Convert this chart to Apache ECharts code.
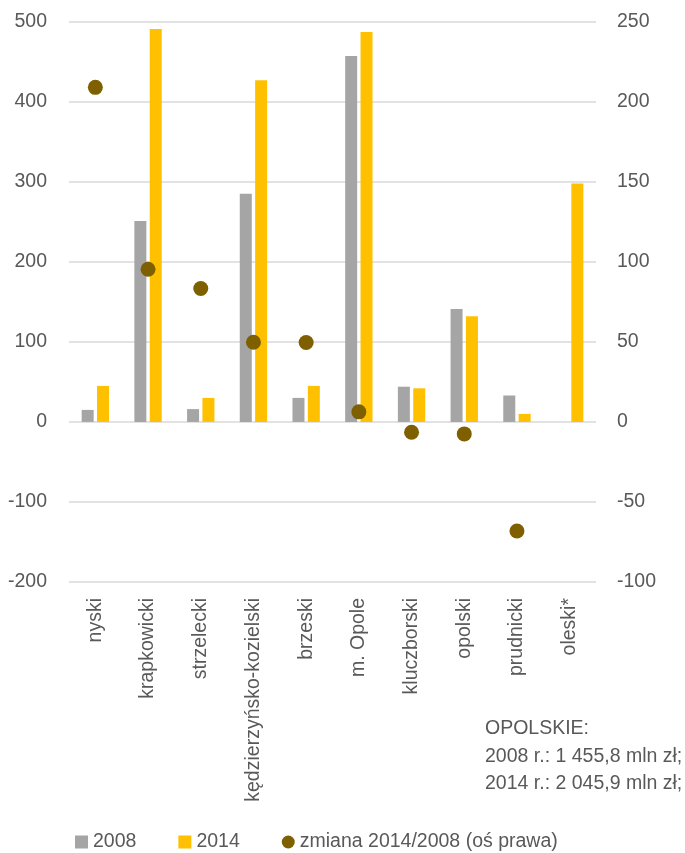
<!DOCTYPE html>
<html>
<head>
<meta charset="utf-8">
<script src="https://cdn.jsdelivr.net/npm/echarts@6/dist/echarts.min.js"></script>
<style>
html,body{margin:0;padding:0;background:#fff;}
#chart{width:685px;height:853px;}
</style>
</head>
<body>
<div id="chart"></div>
<script>
var categories = ['nyski','krapkowicki','strzelecki','kędzierzyńsko-kozielski','brzeski','m. Opole','kluczborski','opolski','prudnicki','oleski*'];
var values2008 = [15, 251, 16, 285, 30, 457, 44, 141, 33, null];
var values2014 = [45, 491, 30, 427, 45, 487, 42, 132, 10, 298];
var change = [209, 95.4, 83.3, 49.8, 49.6, 6.3, -6.5, -7.5, -68.1, null];
var noteLines = ['OPOLSKIE:', '2008 r.: 1 455,8 mln zł;', '2014 r.: 2 045,9 mln zł;'];

var FONT = "'Liberation Sans', Arial, sans-serif";
var FS = 19.5;
var TXT = '#595959';

var chart = echarts.init(document.getElementById('chart'), null, {renderer: 'canvas'});
chart.setOption({
  animation: false,
  backgroundColor: '#ffffff',
  textStyle: {fontFamily: FONT},
  grid: {left: 69, right: 89, top: 21.7, bottom: 271, containLabel: false},
  legend: {
    left: 70, top: 827,
    itemWidth: 13, itemHeight: 13, itemGap: 42,
    textStyle: {fontFamily: FONT, fontSize: FS, color: TXT},
    data: [
      {name: '2008', icon: 'rect'},
      {name: '2014', icon: 'rect'},
      {name: 'zmiana 2014/2008 (oś prawa)', icon: 'circle'}
    ]
  },
  xAxis: {
    type: 'category',
    data: categories,
    position: 'bottom',
    axisLine: {show: false, onZero: false},
    axisTick: {show: false},
    axisLabel: {rotate: 90, margin: 16, fontFamily: FONT, fontSize: FS, color: TXT, interval: 0}
  },
  yAxis: [
    {
      type: 'value', min: -200, max: 500, interval: 100,
      axisLine: {show: false}, axisTick: {show: false},
      axisLabel: {margin: 22, fontFamily: FONT, fontSize: FS, color: TXT},
      splitLine: {lineStyle: {color: '#d9d9d9', width: 1.5}}
    },
    {
      type: 'value', min: -100, max: 250, interval: 50,
      axisLine: {show: false}, axisTick: {show: false},
      axisLabel: {margin: 21, fontFamily: FONT, fontSize: FS, color: TXT},
      splitLine: {show: false}
    }
  ],
  series: [
    {name: '2008', type: 'bar', yAxisIndex: 0, data: values2008, barWidth: 12, barGap: '28%', itemStyle: {color: '#a5a5a5'}},
    {name: '2014', type: 'bar', yAxisIndex: 0, data: values2014, barWidth: 12, barGap: '28%', itemStyle: {color: '#ffc000'}},
    {name: 'zmiana 2014/2008 (oś prawa)', type: 'scatter', yAxisIndex: 1, data: change, symbolSize: 15, itemStyle: {color: '#7f6000', opacity: 1}, z: 5}
  ],
  graphic: [
    {
      type: 'text', left: 485, top: 715,
      style: {text: noteLines.join('\n'), font: FS + 'px ' + FONT, fill: TXT, lineHeight: 27.5}
    }
  ]
});
</script>
</body>
</html>
